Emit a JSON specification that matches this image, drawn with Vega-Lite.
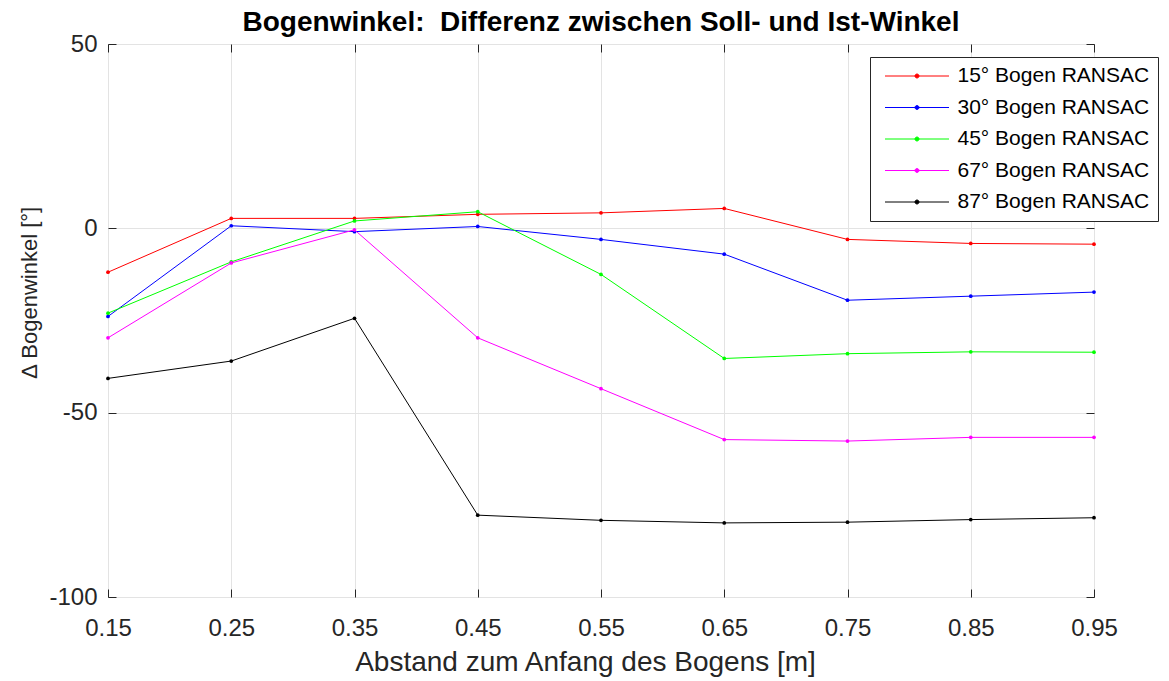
{
  "$schema": "https://vega.github.io/schema/vega-lite/v6.json",
  "width": 986,
  "height": 553,
  "autosize": {"type": "none"},
  "padding": {"left": 108, "top": 44, "right": 75, "bottom": 84},
  "background": "white",
  "title": {
    "text": "Bogenwinkel: \u00a0Differenz zwischen Soll- und Ist-Winkel",
    "fontSize": 28, "fontWeight": "bold", "font": "Liberation Sans", "color": "#000000",
    "offset": -5, "anchor": "middle"
  },
  "config": {
    "view": {"stroke": "#262626", "strokeWidth": 1},
    "axis": {
      "labelFont": "Liberation Sans", "titleFont": "Liberation Sans",
      "labelFontSize": 24, "titleFontWeight": "normal",
      "labelColor": "#262626", "titleColor": "#262626",
      "domainColor": "#262626", "tickColor": "#262626",
      "gridColor": "#e3e3e3", "gridWidth": 1,
      "labelFlush": false, "labelBound": false, "labelOverlap": false
    }
  },
  "data": {
    "values": [
      {"x": 0.15, "s": "15° Bogen RANSAC", "v": -11.9},
      {"x": 0.25, "s": "15° Bogen RANSAC", "v": 2.7},
      {"x": 0.35, "s": "15° Bogen RANSAC", "v": 2.7},
      {"x": 0.45, "s": "15° Bogen RANSAC", "v": 3.8},
      {"x": 0.55, "s": "15° Bogen RANSAC", "v": 4.2},
      {"x": 0.65, "s": "15° Bogen RANSAC", "v": 5.4},
      {"x": 0.75, "s": "15° Bogen RANSAC", "v": -3.0},
      {"x": 0.85, "s": "15° Bogen RANSAC", "v": -4.1},
      {"x": 0.95, "s": "15° Bogen RANSAC", "v": -4.3},
      {"x": 0.15, "s": "30° Bogen RANSAC", "v": -23.9},
      {"x": 0.25, "s": "30° Bogen RANSAC", "v": 0.7},
      {"x": 0.35, "s": "30° Bogen RANSAC", "v": -0.9},
      {"x": 0.45, "s": "30° Bogen RANSAC", "v": 0.5},
      {"x": 0.55, "s": "30° Bogen RANSAC", "v": -3.0},
      {"x": 0.65, "s": "30° Bogen RANSAC", "v": -7.0},
      {"x": 0.75, "s": "30° Bogen RANSAC", "v": -19.5},
      {"x": 0.85, "s": "30° Bogen RANSAC", "v": -18.4},
      {"x": 0.95, "s": "30° Bogen RANSAC", "v": -17.3},
      {"x": 0.15, "s": "45° Bogen RANSAC", "v": -23.0},
      {"x": 0.25, "s": "45° Bogen RANSAC", "v": -9.1},
      {"x": 0.35, "s": "45° Bogen RANSAC", "v": 2.0},
      {"x": 0.45, "s": "45° Bogen RANSAC", "v": 4.5},
      {"x": 0.55, "s": "45° Bogen RANSAC", "v": -12.5},
      {"x": 0.65, "s": "45° Bogen RANSAC", "v": -35.3},
      {"x": 0.75, "s": "45° Bogen RANSAC", "v": -34.0},
      {"x": 0.85, "s": "45° Bogen RANSAC", "v": -33.5},
      {"x": 0.95, "s": "45° Bogen RANSAC", "v": -33.6},
      {"x": 0.15, "s": "67° Bogen RANSAC", "v": -29.7},
      {"x": 0.25, "s": "67° Bogen RANSAC", "v": -9.4},
      {"x": 0.35, "s": "67° Bogen RANSAC", "v": -0.4},
      {"x": 0.45, "s": "67° Bogen RANSAC", "v": -29.7},
      {"x": 0.55, "s": "67° Bogen RANSAC", "v": -43.5},
      {"x": 0.65, "s": "67° Bogen RANSAC", "v": -57.3},
      {"x": 0.75, "s": "67° Bogen RANSAC", "v": -57.7},
      {"x": 0.85, "s": "67° Bogen RANSAC", "v": -56.7},
      {"x": 0.95, "s": "67° Bogen RANSAC", "v": -56.7},
      {"x": 0.15, "s": "87° Bogen RANSAC", "v": -40.7},
      {"x": 0.25, "s": "87° Bogen RANSAC", "v": -36.0},
      {"x": 0.35, "s": "87° Bogen RANSAC", "v": -24.4},
      {"x": 0.45, "s": "87° Bogen RANSAC", "v": -77.8},
      {"x": 0.55, "s": "87° Bogen RANSAC", "v": -79.2},
      {"x": 0.65, "s": "87° Bogen RANSAC", "v": -79.9},
      {"x": 0.75, "s": "87° Bogen RANSAC", "v": -79.7},
      {"x": 0.85, "s": "87° Bogen RANSAC", "v": -79.0},
      {"x": 0.95, "s": "87° Bogen RANSAC", "v": -78.5}
    ]
  },
  "layer": [
    {
      "mark": {"type": "point", "opacity": 0},
      "encoding": {
        "x": {"field": "x", "type": "quantitative", "scale": {"domain": [0.15, 0.95], "nice": false, "zero": false},
          "axis": {"orient": "top", "labels": false, "title": null, "grid": false, "domain": false, "tickSize": -8,
            "values": [0.15, 0.25, 0.35, 0.45, 0.55, 0.65, 0.75, 0.85, 0.95]}},
        "y": {"field": "v", "type": "quantitative", "scale": {"domain": [-100, 50], "nice": false, "zero": false},
          "axis": {"orient": "right", "labels": false, "title": null, "grid": false, "domain": false, "tickSize": -8,
            "values": [-100, -50, 0, 50]}}
      }
    },
    {
      "mark": {"type": "line", "strokeWidth": 1, "point": {"filled": true, "size": 14}},
      "encoding": {
        "x": {"field": "x", "type": "quantitative", "scale": {"domain": [0.15, 0.95], "nice": false, "zero": false},
          "axis": {"orient": "bottom", "title": "Abstand zum Anfang des Bogens [m]", "titleFontSize": 28, "format": ".2f", "grid": true,
            "tickSize": -8, "labelPadding": 27, "titlePadding": 8, "titleX": 477, "titleAlign": "center", "domain": false,
            "values": [0.15, 0.25, 0.35, 0.45, 0.55, 0.65, 0.75, 0.85, 0.95]}},
        "y": {"field": "v", "type": "quantitative", "scale": {"domain": [-100, 50], "nice": false, "zero": false},
          "axis": {"orient": "left", "title": "∆ Bogenwinkel [°]", "titleFontSize": 22, "grid": true, "tickSize": -8, "labelPadding": 19,
            "titlePadding": 7, "titleY": 248, "titleAlign": "center", "domain": false, "labelExpr": "datum.value + ''",
            "values": [-100, -50, 0, 50]}},
        "color": {
          "field": "s", "type": "nominal",
          "scale": {
            "domain": ["15° Bogen RANSAC", "30° Bogen RANSAC", "45° Bogen RANSAC", "67° Bogen RANSAC", "87° Bogen RANSAC"],
            "range": ["#ff0000", "#0000ff", "#00ff00", "#ff00ff", "#000000"]
          },
          "legend": {
            "orient": "none", "legendX": 762, "legendY": 13, "title": null,
            "labelFont": "Liberation Sans", "labelFontSize": 21, "labelColor": "#000000", "labelLimit": 400,
            "symbolType": "M-0.5,0L7.5,0M3.75,0A0.25,0.25,0,1,1,3.25,0A0.25,0.25,0,1,1,3.75,0Z",
            "symbolSize": 256, "symbolStrokeWidth": 1, "labelOffset": 58,
            "fillColor": "white", "strokeColor": "#262626", "padding": 8.5, "rowPadding": 9.5,
            "encode": {"symbols": {"update": {"fill": {"scale": "color", "field": "value"}}}}
          }
        }
      }
    }
  ],
  "resolve": {"axis": {"x": "independent", "y": "independent"}}
}
